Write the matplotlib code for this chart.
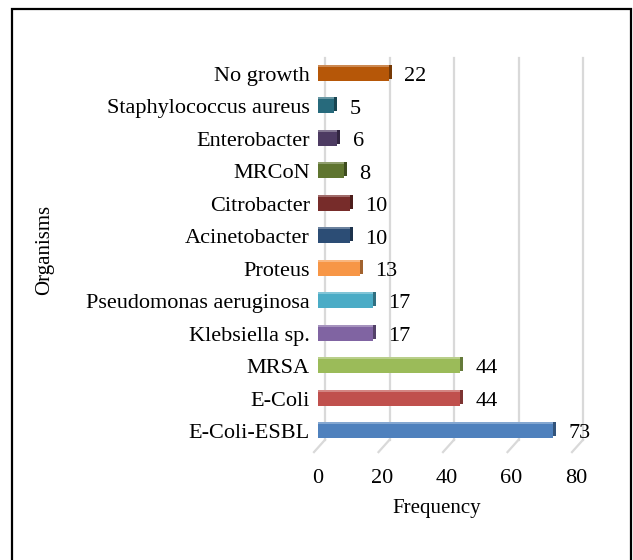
import matplotlib.pyplot as plt
import matplotlib.transforms as mtransforms
from matplotlib.patches import Rectangle
import numpy as np

# Organisms isolated, listed bottom to top as they appear on the chart
organisms = ["E-Coli-ESBL", "E-Coli", "MRSA", "Klebsiella sp.",
             "Pseudomonas aeruginosa", "Proteus", "Acinetobacter",
             "Citrobacter", "MRCoN", "Enterobacter",
             "Staphylococcus aureus", "No growth"]
frequency = [73, 44, 44, 17, 17, 13, 10, 10, 8, 6, 5, 22]
bar_colors = ["#4F81BD", "#C0504D", "#9BBB59", "#8064A2", "#4BACC6",
              "#F79646", "#2C4D75", "#772C2A", "#5F7530", "#4D3B62",
              "#276A7C", "#B65708"]
x_ticks = [0, 20, 40, 60, 80]

plt.rcParams['font.family'] = ['Liberation Serif', 'DejaVu Serif']

fig = plt.figure(figsize=(6.33, 5.6), dpi=100)
ax = fig.add_axes([318 / 633, 1 - 450.5 / 560, 258 / 633, 396 / 560])
ax.set_xlim(0, 80)
ax.set_ylim(-0.6, len(organisms) - 0.4)


def shift(dx, dy, base):
    # offset in pixels (dpi is 100)
    return base + mtransforms.ScaledTranslation(dx / 100, dy / 100, fig.dpi_scale_trans)


def shade(color, f):
    c = np.array(plt.matplotlib.colors.to_rgb(color))
    if f < 1:
        return tuple(c * f)
    return tuple(c + (1 - c) * (f - 1))


# back wall gridlines and floor strokes
blend = mtransforms.blended_transform_factory(ax.transData, ax.transAxes)
for t in x_ticks:
    ax.plot([t, t], [0.027, 0.99], color="#D9D9D9", lw=1.6,
            transform=shift(7, 0, blend), zorder=0, clip_on=False)
    ax.plot([t, t - 11 / 3.225], [0.027, -0.004], color="#D9D9D9", lw=1.6,
            transform=shift(7, 0, blend), zorder=0, clip_on=False)

y = np.arange(len(organisms))
h = 0.43
# side and top faces for a simple 3D look
ax.barh(y, frequency, height=h, color=[shade(c, 0.65) for c in bar_colors],
        transform=shift(3, 2, ax.transData), zorder=2)
ax.barh(y, frequency, height=h, color=[shade(c, 1.3) for c in bar_colors],
        transform=shift(0, 2, ax.transData), zorder=2)
ax.barh(y, frequency, height=h, color=bar_colors, zorder=3)

for yi, v in zip(y, frequency):
    ax.annotate(str(v), (v, yi), xytext=(11, -2), textcoords="offset points",
                ha="left", va="center", fontsize=16)

ax.set_yticks(y)
ax.set_yticklabels(organisms, fontsize=16)
ax.set_xticks(x_ticks)
ax.set_xticklabels([str(t) for t in x_ticks], fontsize=16)
ax.tick_params(axis="y", length=0, pad=6)
ax.tick_params(axis="x", length=0, pad=13)
for s in ax.spines.values():
    s.set_visible(False)
ax.patch.set_visible(False)

fig.text(437 / 633, 1 - 508 / 560, "Frequency", ha="center", va="center", fontsize=15)
fig.text(45 / 633, 1 - 250 / 560, "Organisms", ha="center", va="center",
         rotation=90, fontsize=15)

fig.patches.append(Rectangle((12 / 633, -0.05), 619 / 633, 1.05 - 9 / 560,
                             transform=fig.transFigure, fill=False,
                             edgecolor="black", lw=1.6))

fig.savefig("out.png", dpi=100)
